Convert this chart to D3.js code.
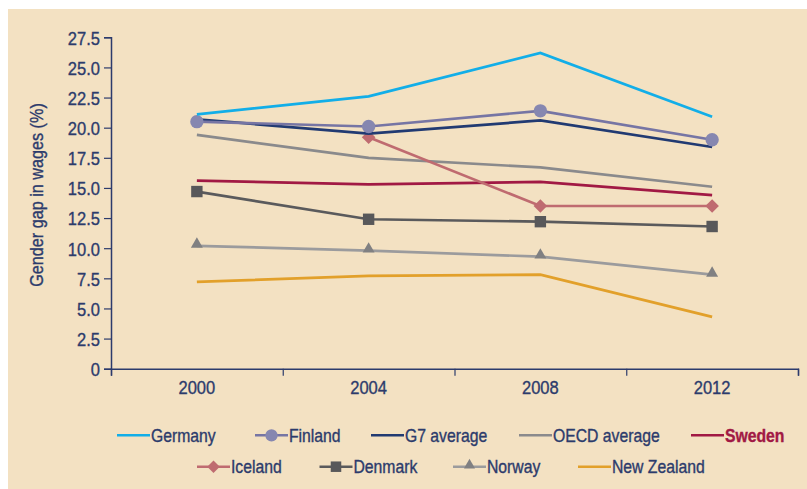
<!DOCTYPE html>
<html>
<head>
<meta charset="utf-8">
<script src="https://cdn.jsdelivr.net/npm/d3@7"></script>
<style>
  html, body { margin: 0; padding: 0; background: #ffffff; }
  svg { display: block; }
  text { font-family: "Liberation Sans", Arial, sans-serif; stroke-width: 0.35px; }
</style>
</head>
<body>
<svg id="chart" width="807" height="489"></svg>
<script>
// Gender gap in wages (%), by year
const years = ["2000", "2004", "2008", "2012"];
const yTicks = [0, 2.5, 5, 7.5, 10, 12.5, 15, 17.5, 20, 22.5, 25, 27.5];

const germany     = [21.1, 22.6, 26.2, 20.9];
const finland     = [20.5, 20.1, 21.4, 19.0];
const g7Average   = [20.7, 19.5, 20.6, 18.4];
const oecdAverage = [19.4, 17.5, 16.7, 15.1];
const sweden      = [15.6, 15.3, 15.5, 14.4];
const iceland     = [null, 19.2, 13.5, 13.5];
const denmark     = [14.7, 12.4, 12.2, 11.8];
const norway      = [10.2, 9.8, 9.3, 7.8];
const newZealand  = [7.2, 7.7, 7.8, 4.3];

const seriesNames = ["Germany", "Finland", "G7 average", "OECD average", "Sweden",
                     "Iceland", "Denmark", "Norway", "New Zealand"];
const seriesValues = [germany, finland, g7Average, oecdAverage, sweden,
                      iceland, denmark, norway, newZealand];

const styles = {
  "Germany":      { line: "#12aee8", marker: null },
  "Finland":      { line: "#7675a4", marker: "circle", fill: "#8687b0" },
  "G7 average":   { line: "#213a72", marker: null },
  "OECD average": { line: "#8a8a8c", marker: null },
  "Sweden":       { line: "#a11944", marker: null, bold: true },
  "Iceland":      { line: "#bf6b70", marker: "diamond", fill: "#bf6b70" },
  "Denmark":      { line: "#5a5a5c", marker: "square", fill: "#58585a" },
  "Norway":       { line: "#9b9b9d", marker: "triangle", fill: "#808082" },
  "New Zealand":  { line: "#e2a02a", marker: null }
};

const axisColor = "#2c3b6c";
const textColor = "#2c3b6c";
const tickFont = 19, tickScale = 0.87;     // condensed tick labels
const legendFont = 17.5, legendScale = 0.9;

const svg = d3.select("#chart");
svg.append("rect").attr("x", 8).attr("y", 9).attr("width", 799).attr("height", 480)
  .attr("fill", "#f3e1c2");

const margin = { left: 111, right: 9, top: 37.3, bottom: 120.3 };
const W = 807, H = 489;

const x = d3.scaleBand().domain(years).range([margin.left, W - margin.right]);
const y = d3.scaleLinear().domain([0, 27.5]).range([H - margin.bottom, margin.top]);

// y axis
const yAxis = svg.append("g").attr("transform", `translate(${margin.left},0)`)
  .call(d3.axisLeft(y).tickValues(yTicks).tickSize(7).tickPadding(4)
    .tickFormat(d => d === 0 ? "0" : d3.format(".1f")(d)));
yAxis.select(".domain").attr("stroke", axisColor).attr("stroke-width", 1.5);
yAxis.selectAll(".tick line").attr("stroke", axisColor).attr("stroke-width", 1.2);
yAxis.selectAll(".tick text")
  .attr("fill", textColor).attr("stroke", textColor).attr("font-size", tickFont)
  .attr("font-family", '"Liberation Sans", Arial, sans-serif')
  .attr("x", -11 / tickScale).attr("dy", "0.36em")
  .attr("transform", `scale(${tickScale},1)`);

// x axis: boundary ticks between year bands, labels at band centres
const xBoundary = d3.scaleLinear().domain([0, years.length]).range(x.range());
const xAxis = svg.append("g").attr("transform", `translate(0,${y(0)})`)
  .call(d3.axisBottom(xBoundary).ticks(years.length).tickSize(7).tickFormat(""));
xAxis.select(".domain").attr("stroke", axisColor).attr("stroke-width", 1.5);
xAxis.selectAll(".tick line").attr("stroke", axisColor).attr("stroke-width", 1.2);

const xLabels = svg.append("g").attr("transform", `translate(0,${y(0)})`)
  .call(d3.axisBottom(x).tickSize(0).tickPadding(0));
xLabels.select(".domain").remove();
xLabels.selectAll(".tick text")
  .attr("fill", textColor).attr("stroke", textColor).attr("font-size", tickFont)
  .attr("font-family", '"Liberation Sans", Arial, sans-serif')
  .attr("y", 25.5).attr("dy", null)
  .attr("transform", `scale(${tickScale},1)`);

// y axis title
svg.append("g")
  .attr("transform", `translate(43,195) rotate(-90) scale(0.9,1)`)
  .append("text")
  .attr("text-anchor", "middle")
  .attr("fill", textColor).attr("stroke", textColor).attr("font-size", 18)
  .text("Gender gap in wages (%)");

const cx = d => x(d) + x.bandwidth() / 2;

function markerPath(type, size) {
  const sym = { circle: d3.symbolCircle, diamond: d3.symbolSquare,
                square: d3.symbolSquare, triangle: d3.symbolTriangle }[type];
  return d3.symbol().type(sym).size(size)();
}
const markerSize = { circle: 140, diamond: 92, square: 130, triangle: 62 };
const markerRot = t => t === "diamond" ? " rotate(45)" : "";
const markerDy = t => t === "triangle" ? -1.5 : 0;

const line = d3.line()
  .defined(d => d.v !== null)
  .x(d => cx(d.year))
  .y(d => y(d.v));

// later series underneath, so Germany/Finland/G7 end up on top
const order = [8, 7, 6, 3, 4, 5, 2, 1, 0];
order.forEach(i => {
  const name = seriesNames[i];
  const st = styles[name];
  const pts = years.map((yr, j) => ({ year: yr, v: seriesValues[i][j] }));
  svg.append("path").datum(pts)
    .attr("d", line)
    .attr("fill", "none")
    .attr("stroke", st.line)
    .attr("stroke-width", 2.7);
  if (st.marker) {
    svg.selectAll(null).data(pts.filter(d => d.v !== null)).enter()
      .append("path")
      .attr("d", markerPath(st.marker, markerSize[st.marker]))
      .attr("transform", d => `translate(${cx(d.year)},${y(d.v) + markerDy(st.marker)})${markerRot(st.marker)}`)
      .attr("fill", st.fill);
  }
});

// legend
const legendItems = [
  { name: "Germany", x: 117, row: 0 },
  { name: "Finland", x: 255, row: 0 },
  { name: "G7 average", x: 371, row: 0 },
  { name: "OECD average", x: 519, row: 0 },
  { name: "Sweden", x: 691, row: 0 },
  { name: "Iceland", x: 197, row: 1 },
  { name: "Denmark", x: 319.5, row: 1 },
  { name: "Norway", x: 453, row: 1 },
  { name: "New Zealand", x: 578, row: 1 }
];
const rowY = [435.3, 466.7];
const legend = svg.append("g");
legendItems.forEach(it => {
  const st = styles[it.name];
  const ly = rowY[it.row];
  const g = legend.append("g");
  g.append("line").attr("x1", it.x).attr("x2", it.x + 33)
    .attr("y1", ly).attr("y2", ly)
    .attr("stroke", st.line).attr("stroke-width", 2.4);
  if (st.marker) {
    g.append("path")
      .attr("d", markerPath(st.marker, markerSize[st.marker] * 0.85))
      .attr("transform", `translate(${it.x + 16.5},${ly + markerDy(st.marker)})${markerRot(st.marker)}`)
      .attr("fill", st.fill);
  }
  const color = st.bold ? "#a11944" : textColor;
  g.append("g")
    .attr("transform", `translate(${it.x + 34},${ly + 6.3}) scale(${legendScale},1)`)
    .append("text")
    .attr("fill", color).attr("stroke", color)
    .attr("font-weight", st.bold ? "bold" : "normal")
    .attr("font-size", legendFont)
    .text(it.name);
});
</script>
</body>
</html>
